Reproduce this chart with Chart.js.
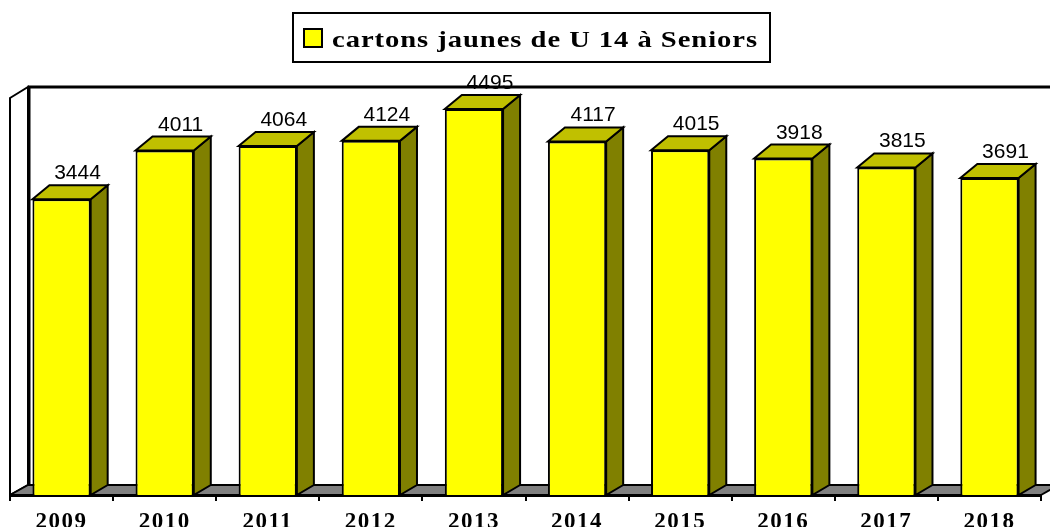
<!DOCTYPE html>
<html>
<head>
<meta charset="utf-8">
<script src="https://cdn.jsdelivr.net/npm/chart.js@4/dist/chart.umd.min.js"></script>
<style>
  html, body { margin: 0; padding: 0; background: #fff; }
  canvas { display: block; }
</style>
</head>
<body>
<canvas id="c" width="1050" height="527"></canvas>
<script>
const categories = ['2009', '2010', '2011', '2012', '2013', '2014', '2015', '2016', '2017', '2018'];
const cartonsJaunes = [3444, 4011, 4064, 4124, 4495, 4117, 4015, 3918, 3815, 3691];
const seriesLabel = 'cartons jaunes de U 14 à Seniors';
const yMin = 0;
const yMax = 4600;

const FRONT = '#FFFF00', TOPC = '#C0C000', SIDE = '#808000', FLOOR = '#808080';
const BDX = 17, BDY = 14;   // bar depth
const WDX = 18, WDY = 11;   // wall depth

const walls = {
  id: 'walls',
  beforeDraw(chart) {
    const ctx = chart.ctx, a = chart.chartArea;
    const L = a.left, B = a.bottom, W = chart.width;
    const wallTop = a.top - 13;
    ctx.save();
    ctx.lineJoin = 'miter';
    ctx.fillStyle = '#fff';
    ctx.fillRect(L + WDX, wallTop, W, B - WDY + 1 - wallTop);
    ctx.strokeStyle = '#000';
    ctx.lineWidth = 3;
    ctx.beginPath();
    ctx.moveTo(L + WDX + 1, B - 10);
    ctx.lineTo(L + WDX + 1, wallTop);
    ctx.lineTo(W + 5, wallTop);
    ctx.stroke();
    ctx.lineWidth = 2;
    ctx.beginPath();
    ctx.moveTo(L, wallTop + WDY);
    ctx.lineTo(L + WDX, wallTop);
    ctx.lineTo(L + WDX, B - 10);
    ctx.lineTo(L, B);
    ctx.closePath();
    ctx.fillStyle = '#fff';
    ctx.fill();
    ctx.stroke();
    ctx.beginPath();
    ctx.moveTo(L, B);
    ctx.lineTo(L + WDX, B - 10);
    ctx.lineTo(W + 5, B - 10);
    ctx.lineTo(W + 5, B - 8);
    ctx.lineTo(a.right, B);
    ctx.closePath();
    ctx.fillStyle = FLOOR;
    ctx.fill();
    ctx.beginPath();
    ctx.moveTo(L, B);
    ctx.lineTo(L + WDX, B - 10);
    ctx.lineTo(W + 5, B - 10);
    ctx.stroke();
    ctx.beginPath();
    ctx.moveTo(a.right, B);
    ctx.lineTo(W + 5, B - 8);
    ctx.stroke();
    ctx.restore();
    // slight spacing for the category tick labels drawn next by the x scale
    ctx.letterSpacing = '1.5px';
  }
};

const bars3d = {
  id: 'bars3d',
  beforeDatasetsDraw(chart) {
    const ctx = chart.ctx, a = chart.chartArea, B = a.bottom;
    ctx.letterSpacing = '0px';
    const meta = chart.getDatasetMeta(0);
    ctx.save();
    ctx.strokeStyle = '#000';
    ctx.lineWidth = 2;
    ctx.lineJoin = 'miter';
    meta.data.forEach(bar => {
      const p = bar.getProps(['x', 'y', 'width'], true);
      const l = p.x - p.width / 2, r = p.x + p.width / 2, t = p.y;
      ctx.beginPath();
      ctx.moveTo(r, t);
      ctx.lineTo(r + BDX, t - BDY);
      ctx.lineTo(r + BDX, B - 10);
      ctx.lineTo(r, B);
      ctx.closePath();
      ctx.fillStyle = SIDE;
      ctx.fill();
      ctx.stroke();
      ctx.beginPath();
      ctx.moveTo(l, t);
      ctx.lineTo(l + BDX, t - BDY);
      ctx.lineTo(r + BDX, t - BDY);
      ctx.lineTo(r, t);
      ctx.closePath();
      ctx.fillStyle = TOPC;
      ctx.fill();
      ctx.stroke();
    });
    ctx.restore();
  },
  afterDatasetsDraw(chart) {
    const ctx = chart.ctx;
    const meta = chart.getDatasetMeta(0);
    const ds = chart.data.datasets[0];
    ctx.save();
    ctx.fillStyle = '#000';
    ctx.font = '21px "Liberation Sans", Arial, sans-serif';
    ctx.textAlign = 'center';
    ctx.textBaseline = 'alphabetic';
    meta.data.forEach((bar, i) => {
      const p = bar.getProps(['x', 'y'], true);
      ctx.fillText(String(ds.data[i]), p.x + 16, p.y - 20);
    });
    ctx.restore();
  },
  afterDraw(chart) {
    const ctx = chart.ctx;
    const label = chart.data.datasets[0].label;
    ctx.save();
    ctx.strokeStyle = '#000';
    ctx.lineWidth = 2;
    ctx.fillStyle = '#fff';
    ctx.fillRect(293, 13, 477, 49);
    ctx.strokeRect(293, 13, 477, 49);
    ctx.fillStyle = FRONT;
    ctx.fillRect(304, 29, 18, 18);
    ctx.strokeRect(304, 29, 18, 18);
    ctx.font = 'bold 24px "Liberation Serif", "Times New Roman", serif';
    ctx.textAlign = 'left';
    ctx.textBaseline = 'alphabetic';
    ctx.fillStyle = '#000';
    ctx.letterSpacing = '0.8px';
    const w = ctx.measureText(label).width;
    const sx = 426 / w;
    ctx.translate(332, 47);
    ctx.scale(sx, 1);
    ctx.fillText(label, 0, 0);
    ctx.restore();
  }
};

new Chart(document.getElementById('c'), {
  type: 'bar',
  data: {
    labels: categories,
    datasets: [{
      label: seriesLabel,
      data: cartonsJaunes,
      backgroundColor: FRONT,
      borderColor: '#000',
      borderWidth: 2,
      borderSkipped: 'bottom',
      barPercentage: 0.565,
      categoryPercentage: 1.0
    }]
  },
  options: {
    responsive: false,
    animation: false,
    devicePixelRatio: 1,
    layout: { padding: { left: 10, right: 9, top: 100, bottom: 0 } },
    plugins: { legend: { display: false }, tooltip: { enabled: false } },
    scales: {
      y: { display: false, min: yMin, max: yMax },
      x: {
        display: true,
        afterFit(scale) { scale.height = 32; },
        grid: { display: true, drawOnChartArea: false, drawTicks: true, tickLength: 6, color: '#000', lineWidth: 2, offset: true },
        border: { display: true, color: '#000', width: 3 },
        ticks: {
          color: '#000',
          padding: 10,
          maxRotation: 0,
          font: { family: '"Liberation Serif", "Times New Roman", serif', weight: 'bold', size: 23, lineHeight: 1 }
        }
      }
    }
  },
  plugins: [walls, bars3d]
});
</script>
</body>
</html>
